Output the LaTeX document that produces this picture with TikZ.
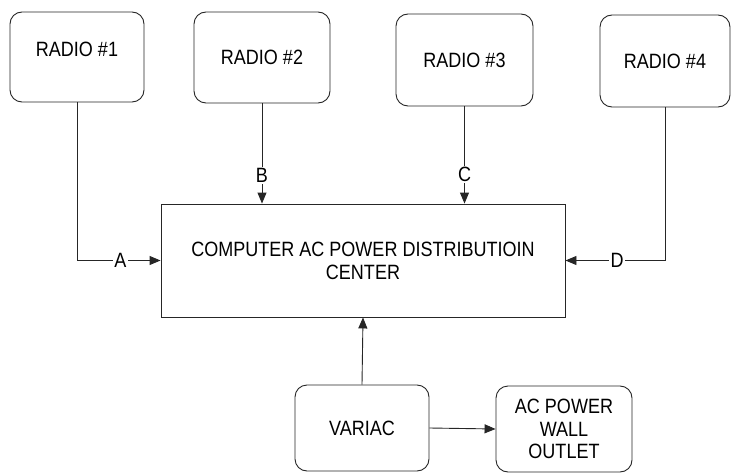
\documentclass[tikz,border=0pt]{standalone}
\usepackage{fontspec}
\setmainfont{Liberation Sans}[FakeStretch=0.87]
\usetikzlibrary{arrows.meta}

\tikzset{
  ink/.style={draw=black!85, line width=0.9pt},
  unit/.style={ink, rounded corners=12pt, align=center, inner sep=0pt,
    font=\fontsize{20.7}{22.5}\selectfont},
  hub/.style={ink, align=center, inner sep=0pt,
    font=\fontsize{20.7}{22.5}\selectfont},
  feed/.style={ink, -{Triangle[length=11pt,width=9pt]}},
  tag/.style={fill=white, inner sep=1.5pt, font=\fontsize{20.7}{22}\selectfont}
}

\begin{document}
\begin{tikzpicture}[x=1pt, y=-1pt]
  \useasboundingbox (0,0) rectangle (731,476);

  % radios along the top
  \node[unit, minimum width=134pt, minimum height=90pt] (r1) at (77,57)
    {\raisebox{8pt}[\height][\depth]{RADIO \#1}};
  \node[unit, minimum width=136pt, minimum height=91pt] (r2) at (262,57.5) {RADIO \#2};
  \node[unit, minimum width=137pt, minimum height=92pt] (r3) at (464.5,60) {RADIO \#3};
  \node[unit, minimum width=130pt, minimum height=92pt] (r4) at (665,61) {RADIO \#4};

  % distribution center
  \node[hub, minimum width=404pt, minimum height=113pt] (dist) at (363,260.5)
    {\raisebox{-3pt}[\height][\depth]{\begin{tabular}{@{}c@{}}COMPUTER AC POWER DISTRIBUTIOIN\\[0.5pt]CENTER\end{tabular}}};

  % supply chain
  \node[unit, minimum width=134pt, minimum height=86pt] (variac) at (362,428) {VARIAC};
  \node[unit, minimum width=136pt, minimum height=86pt] (outlet) at (564,429)
    {AC POWER\\WALL\\OUTLET};

  % feeds into the distribution center
  \draw[feed] (r1.south) |- node[tag, pos=0.76] {A} (dist.west);
  \draw[feed] (r2.south) -- node[tag, pos=0.72] {B} (r2.south |- dist.north);
  \draw[feed] (r3.south) -- node[tag, pos=0.70] {C} (r3.south |- dist.north);
  \draw[feed] (r4.south) |- node[tag, pos=0.74] {D} (dist.east);
  \draw[feed] (variac.north) -- (dist.south);
  \draw[feed] (variac.east) -- (outlet.west);
\end{tikzpicture}
\end{document}
